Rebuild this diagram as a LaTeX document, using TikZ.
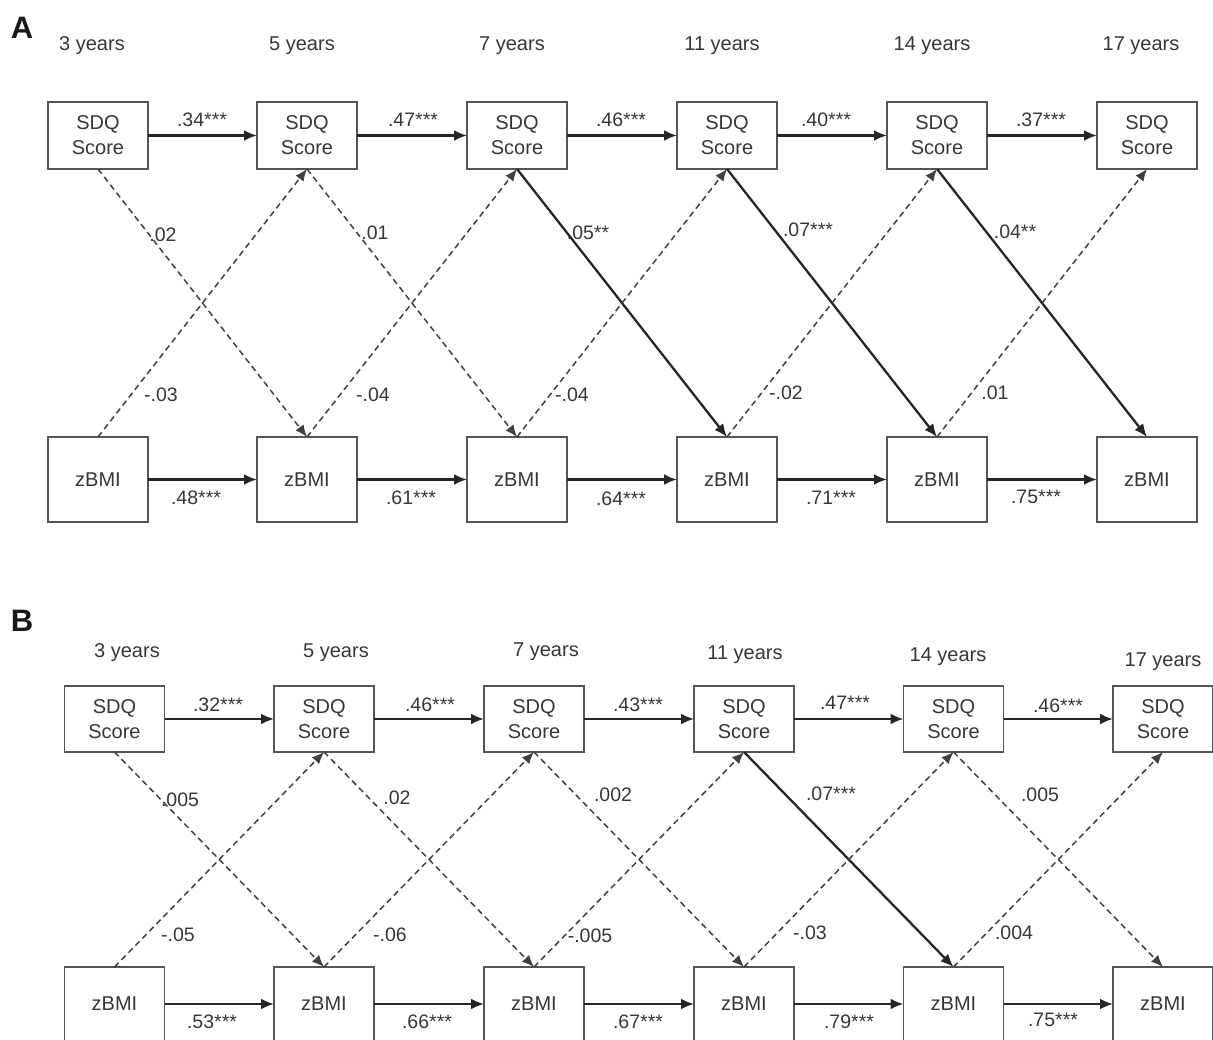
\documentclass[tikz,border=0pt]{standalone}
\usepackage{fontspec}
\setmainfont{Liberation Sans}
\usetikzlibrary{arrows.meta}
\definecolor{txt}{HTML}{363636}
\definecolor{ln}{HTML}{262626}
\definecolor{bx}{HTML}{555555}
\begin{document}
\begin{tikzpicture}[x=1pt,y=-1pt,
  box/.style={draw=bx, line width=1.8pt, minimum width=100pt, inner sep=0pt, outer sep=0pt,
    text=txt, align=center, font=\fontsize{20}{25}\selectfont},
  sdqbox/.style={box, minimum height=67pt},
  bmibox/.style={box, minimum height=85pt},
  sdqboxb/.style={box, minimum height=66pt},
  bmiboxb/.style={box, minimum height=74pt},
  lab/.style={text=txt, inner sep=0pt, font=\fontsize{19.5}{22}\selectfont},
  age/.style={text=txt, inner sep=0pt, font=\fontsize{20}{22}\selectfont},
  panel/.style={text=black!90, inner sep=0pt, font=\fontsize{31}{34}\selectfont\bfseries},
  harr/.style={draw=ln, line width=2.3pt, -{Latex[length=13pt,width=11pt]}},
  sarr/.style={draw=ln, line width=2.3pt, -{Latex[length=13pt,width=11pt]}},
  darr/.style={draw=black!75, line width=1.5pt, dash pattern=on 6pt off 4pt, -{Latex[length=12pt,width=10pt]}},
]
\path[use as bounding box] (0,0) rectangle (1213,1040);
\clip (0,0) rectangle (1213,1040);

% ================= Panel A =================
\node[panel] (pA) at (22,28) {A};
\foreach \x/\t/\n in {92/3/1, 302/5/2, 512/7/3, 722/11/4, 932/14/5, 1141/17/6}
  \node[age] (ageA\n) at (\x,46) {\t{} years};

\foreach \x/\n in {98/1, 307/2, 517/3, 727/4, 937/5, 1147/6} {
  \node[sdqbox] (tA\n) at (\x,135.5) {SDQ\\Score};
  \node[bmibox] (bA\n) at (\x,479.5) {zBMI};
}

% autoregressive paths
\foreach \a/\b in {1/2,2/3,3/4,4/5,5/6} {
  \draw[harr] (tA\a.east) -- (tA\b.west);
  \draw[harr] (bA\a.east) -- (bA\b.west);
}
% cross-lagged, SDQ -> zBMI
\draw[darr] (tA1.south) -- (bA2.north);
\draw[darr] (tA2.south) -- (bA3.north);
\draw[sarr] (tA3.south) -- (bA4.north);
\draw[sarr] (tA4.south) -- (bA5.north);
\draw[sarr] (tA5.south) -- (bA6.north);
% cross-lagged, zBMI -> SDQ
\foreach \a/\b in {1/2,2/3,3/4,4/5,5/6}
  \draw[darr] (bA\a.north) -- (tA\b.south);

% labels A
\node[lab] (lA1) at (202,120) {.34***};
\node[lab] (lA2) at (413,120) {.47***};
\node[lab] (lA3) at (621,120) {.46***};
\node[lab] (lA4) at (826,120) {.40***};
\node[lab] (lA5) at (1041,120) {.37***};
\node[lab] (mA1) at (196,498) {.48***};
\node[lab] (mA2) at (411,498) {.61***};
\node[lab] (mA3) at (621,499) {.64***};
\node[lab] (mA4) at (831,498) {.71***};
\node[lab] (mA5) at (1036,497) {.75***};
\node[lab] (dA1) at (163,235) {.02};
\node[lab] (dA2) at (375,233) {.01};
\node[lab] (dA3) at (588,233) {.05**};
\node[lab] (dA4) at (808,230) {.07***};
\node[lab] (dA5) at (1015,232) {.04**};
\node[lab] (uA1) at (161,395) {-.03};
\node[lab] (uA2) at (373,395) {-.04};
\node[lab] (uA3) at (572,395) {-.04};
\node[lab] (uA4) at (786,393) {-.02};
\node[lab] (uA5) at (995,393) {.01};

% ================= Panel B =================
\node[panel] (pB) at (22,621) {B};
\node[age] (ageB1) at (127,653) {3 years};
\node[age] (ageB2) at (336,653) {5 years};
\node[age] (ageB3) at (546,652) {7 years};
\node[age] (ageB4) at (745,655) {11 years};
\node[age] (ageB5) at (948,657) {14 years};
\node[age] (ageB6) at (1163,662) {17 years};

\foreach \x/\n in {114.5/1, 324/2, 534/3, 744/4, 953.5/5, 1163/6} {
  \node[sdqboxb] (tB\n) at (\x,719) {SDQ\\Score};
  \node[bmiboxb] (bB\n) at (\x,1004) {zBMI};
}

\foreach \a/\b in {1/2,2/3,3/4,4/5,5/6} {
  \draw[harr] (tB\a.east) -- (tB\b.west);
  \draw[harr] (bB\a.east) -- (bB\b.west);
}
\draw[darr] (tB1.south) -- (bB2.north);
\draw[darr] (tB2.south) -- (bB3.north);
\draw[darr] (tB3.south) -- (bB4.north);
\draw[sarr] (tB4.south) -- (bB5.north);
\draw[darr] (tB5.south) -- (bB6.north);
\foreach \a/\b in {1/2,2/3,3/4,4/5,5/6}
  \draw[darr] (bB\a.north) -- (tB\b.south);

\node[lab] (lB1) at (218,705) {.32***};
\node[lab] (lB2) at (430,705) {.46***};
\node[lab] (lB3) at (638,705) {.43***};
\node[lab] (lB4) at (845,703) {.47***};
\node[lab] (lB5) at (1058,706) {.46***};
\node[lab] (mB1) at (212,1022) {.53***};
\node[lab] (mB2) at (427,1022) {.66***};
\node[lab] (mB3) at (638,1022) {.67***};
\node[lab] (mB4) at (849,1022) {.79***};
\node[lab] (mB5) at (1053,1020) {.75***};
\node[lab] (dB1) at (180,800) {.005};
\node[lab] (dB2) at (397,798) {.02};
\node[lab] (dB3) at (613,795) {.002};
\node[lab] (dB4) at (831,794) {.07***};
\node[lab] (dB5) at (1040,795) {.005};
\node[lab] (uB1) at (178,935) {-.05};
\node[lab] (uB2) at (390,935) {-.06};
\node[lab] (uB3) at (590,936) {-.005};
\node[lab] (uB4) at (810,933) {-.03};
\node[lab] (uB5) at (1014,933) {.004};
\end{tikzpicture}
\end{document}
